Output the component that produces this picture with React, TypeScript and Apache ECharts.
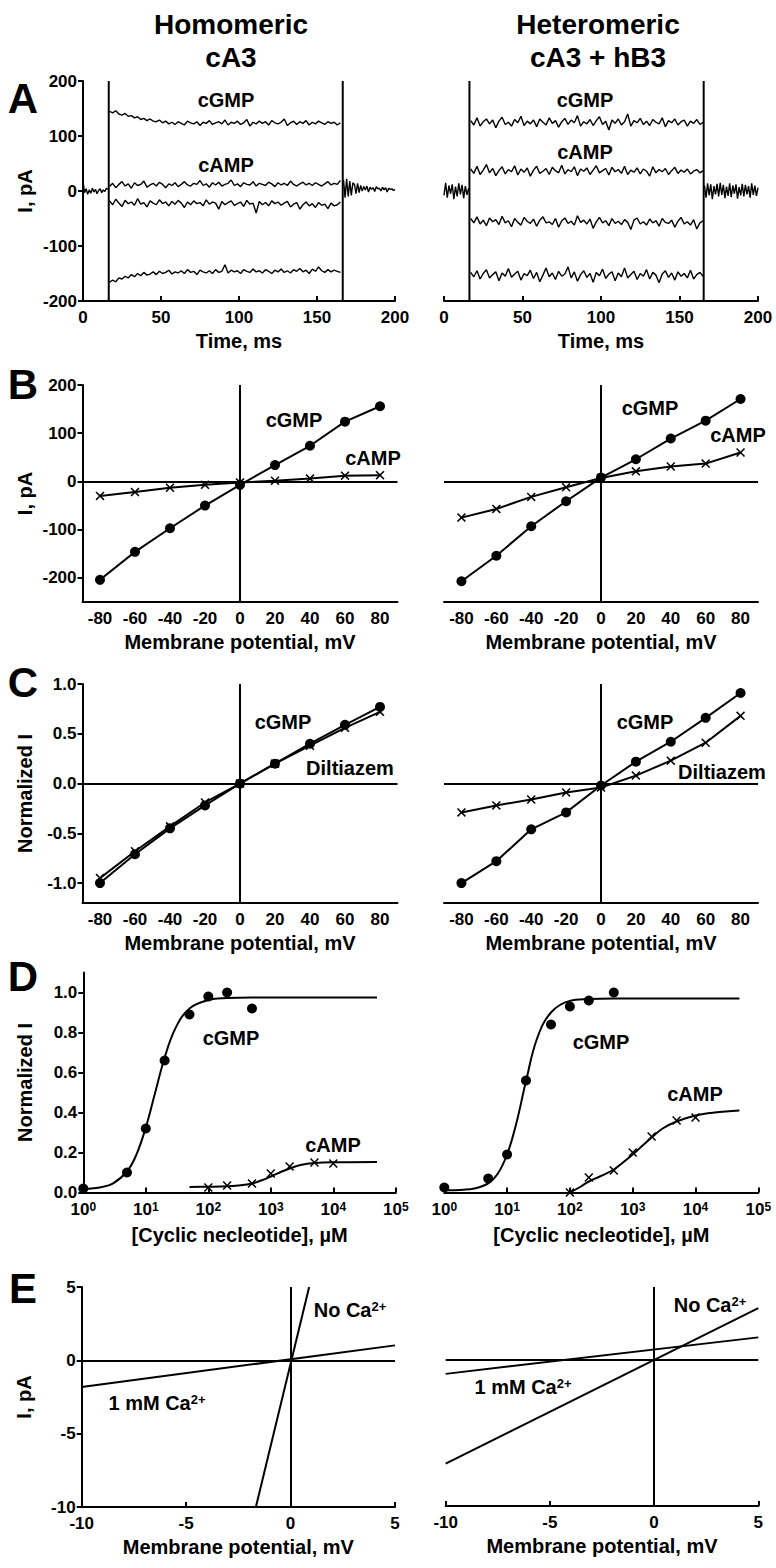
import React, { useEffect, useRef } from "react";
import * as echarts from "echarts";

const FONT = '"Liberation Sans", Arial, Helvetica, sans-serif';

// ---------- Panel A : current traces (pA) ----------
const A_L_STEP = [16.5, 166.5];
const A_R_STEP = [16.2, 165.4];
const A_PULSE = [17, 165];
const A_L_PRE = [18, -3, 4, -6, 2, -4, 5, -2, 3, -5, 1, 4, -3, 2, -1, 5, 3];
const A_L_POST = [20, -12, 22, -10, 18, -8, 15, 12, -5, 14, -3, 10, 0, 8, 2, 9, -2, 7, 3, 6, -1, 8, 4, 5, 0, 7, 2, 6, -2, 5, 3, 4, 1, 3];
const A_L_CGMP_POS = [145, 142, 146, 140, 138, 141, 136, 137, 133, 135, 130, 132, 128, 131, 127, 126, 129, 124, 127, 122, 125, 121, 126, 123, 120, 127, 124, 122, 126, 119, 125, 123, 128, 121, 124, 126, 122, 129, 120, 125, 123, 127, 121, 124, 130, 118, 125, 122, 127, 123, 126, 120, 128, 124, 122, 125, 131, 119, 124, 127, 121, 126, 123, 128, 120, 125, 122, 127, 124, 121, 126, 123, 125, 120, 124];
const A_L_CAMP_POS = [8, 14, 6, 12, 17, 9, 13, 5, 15, 10, 12, 18, 7, 11, 14, 9, 16, 12, 6, 13, 10, 15, 8, 12, 17, 11, 9, 14, 12, 19, 10, 13, 7, 15, 11, 16, 9, 12, 14, 20, 10, 13, 8, 15, 12, 11, 17, 9, 14, 12, 10, 16, 13, 8, 15, 11, 14, 10, 18, 12, 9, 13, 16, 11, 14, 10, 15, 12, 9, 13, 17, 11, 14, 12, 19];
const A_L_CAMP_NEG = [-18, -25, -15, -22, -28, -17, -23, -20, -26, -14, -24, -21, -29, -18, -22, -25, -16, -23, -20, -27, -19, -24, -17, -22, -30, -20, -25, -18, -23, -21, -27, -16, -24, -20, -22, -33, -19, -25, -21, -18, -26, -23, -20, -28, -17, -24, -22, -40, -19, -25, -21, -27, -18, -23, -20, -26, -22, -19, -29, -24, -21, -33, -25, -20, -27, -23, -30, -21, -26, -24, -32, -22, -27, -25, -20];
const A_L_CGMP_NEG = [-166, -162, -165, -158, -160, -155, -158, -152, -156, -150, -154, -148, -153, -151, -147, -152, -146, -150, -148, -144, -151, -147, -149, -145, -150, -143, -148, -146, -152, -144, -147, -149, -145, -150, -143, -148, -146, -134, -149, -144, -147, -145, -150, -143, -146, -148, -142, -147, -145, -149, -143, -146, -150, -144, -147, -142, -148, -145, -149, -143, -146, -141, -147, -144, -150, -142, -146, -138, -145, -148, -143, -147, -144, -146, -148];
const A_R_PRE = [-8, 15, -12, 10, -5, 12, -15, 8, -10, 14, -6, 11, -13, 9, -7, 5];
const A_R_POST = [10, -12, 14, -8, 12, -15, 9, -6, 13, -10, 15, -7, 11, -13, 8, -9, 14, -11, 10, -5, 12, -14, 7, -8, 13, -10, 11, -6, 9, -12, 14, -7, 10, -9, 6];
const A_R_CGMP_POS = [128, 120, 133, 118, 126, 131, 122, 129, 115, 127, 134, 121, 125, 118, 130, 124, 136, 119, 127, 122, 129, 117, 131, 125, 120, 133, 123, 128, 116, 126, 132, 121, 129, 124, 137, 118, 126, 122, 130, 119, 128, 135, 121, 127, 111, 129, 123, 131, 120, 126, 140, 118, 128, 124, 132, 121, 127, 119, 130, 125, 122, 133, 117, 128, 124, 131, 120, 126, 129, 118, 127, 123, 130, 121, 125];
const A_R_CAMP_POS = [40, 32, 45, 30, 38, 48, 33, 41, 28, 37, 44, 31, 39, 35, 46, 29, 40, 34, 42, 27, 38, 45, 32, 36, 41, 30, 43, 37, 33, 47, 31, 39, 35, 44, 28, 40, 36, 42, 30, 38, 46, 33, 37, 41, 29, 43, 35, 39, 32, 45, 30, 38, 34, 42, 31, 40, 36, 27, 44, 33, 39, 35, 41, 30, 37, 43, 32, 38, 34, 40, 31, 36, 39, 33, 37];
const A_R_CAMP_NEG = [-50, -58, -47, -60, -53, -63, -49, -56, -52, -61, -46, -58, -54, -65, -50, -57, -62, -48, -55, -59, -51, -64, -53, -47, -58, -56, -61, -50, -66, -54, -49, -59, -55, -62, -45, -57, -53, -60, -51, -68, -56, -48, -58, -54, -63, -50, -59, -55, -61, -52, -57, -70, -53, -49, -60, -56, -62, -51, -58, -54, -64, -50, -57, -59, -53, -66, -55, -48, -60, -56, -62, -52, -69, -58, -54];
const A_R_CGMP_NEG = [-148, -156, -145, -160, -150, -143, -158, -152, -147, -163, -149, -155, -141, -157, -151, -146, -162, -150, -154, -144, -159, -148, -165, -153, -140, -156, -149, -161, -146, -155, -151, -138, -158, -147, -164, -152, -145, -157, -150, -166, -148, -154, -142, -159, -151, -147, -163, -149, -156, -140, -158, -152, -146, -161, -150, -155, -143, -160, -148, -153, -167, -151, -145, -157, -149, -162, -147, -155, -150, -158, -144, -160, -152, -148, -155];

// ---------- Panels B, C : I-V relations ----------
const VOLTAGES = [-80, -60, -40, -20, 0, 20, 40, 60, 80];
const V_TICKS = [-80, -60, -40, -20, 0, 20, 40, 60, 80];
const B_TICKS = [-200, -100, 0, 100, 200];
const B_L_CGMP = [-204, -146, -97, -50, -7, 34, 74, 124, 156];
const B_L_CAMP = [-30, -22, -13, -7, -2, 1.5, 6, 12, 13];
const B_R_CGMP = [-207, -154, -93, -41, 8, 46, 89, 126, 171];
const B_R_CAMP = [-75, -57, -32, -12, 7, 21, 31, 37, 60];
const C_TICKS = [-1, -0.5, 0, 0.5, 1];
const C_L_CGMP = [-1.0, -0.71, -0.45, -0.22, 0, 0.2, 0.4, 0.59, 0.77];
const C_L_DILT = [-0.95, -0.68, -0.43, -0.19, 0, 0.2, 0.38, 0.56, 0.72];
const C_R_CGMP = [-1.0, -0.78, -0.46, -0.29, -0.02, 0.22, 0.42, 0.66, 0.91];
const C_R_DILT = [-0.29, -0.22, -0.16, -0.09, -0.04, 0.08, 0.23, 0.41, 0.68];

// ---------- Panel D : dose-response ----------
const D_TICKS = [0, 0.2, 0.4, 0.6, 0.8, 1.0];
const D_L_CGMP_C = [1, 5, 10, 20, 50, 100, 200, 500];
const D_L_CGMP_I = [0.02, 0.1, 0.32, 0.66, 0.89, 0.98, 1.0, 0.92];
const D_L_CAMP_C = [100, 200, 500, 1000, 2000, 5000, 10000];
const D_L_CAMP_I = [0.025, 0.035, 0.045, 0.095, 0.13, 0.15, 0.145];
const D_L_CGMP_FIT_C = [1, 2, 3, 5, 7, 10, 14, 20, 30, 50, 100, 200, 500, 1000, 50000];
const D_L_CGMP_FIT_I = [0.018, 0.028, 0.046, 0.105, 0.186, 0.325, 0.495, 0.674, 0.823, 0.92, 0.962, 0.972, 0.975, 0.975, 0.975];
const D_L_CAMP_FIT_C = [50, 100, 200, 300, 500, 700, 1000, 1500, 2000, 3000, 5000, 10000, 50000];
const D_L_CAMP_FIT_I = [0.028, 0.029, 0.031, 0.035, 0.045, 0.06, 0.08, 0.105, 0.12, 0.137, 0.147, 0.151, 0.152];
const D_R_CGMP_C = [1, 5, 10, 20, 50, 100, 200, 500];
const D_R_CGMP_I = [0.025, 0.07, 0.19, 0.56, 0.84, 0.93, 0.96, 1.0];
const D_R_CAMP_C = [100, 200, 500, 1000, 2000, 5000, 10000];
const D_R_CAMP_I = [0.0, 0.075, 0.11, 0.2, 0.28, 0.36, 0.375];
const D_R_CGMP_FIT_C = [1, 2, 3, 5, 7, 10, 14, 20, 30, 50, 100, 200, 500, 1000, 50000];
const D_R_CGMP_FIT_I = [0.011, 0.014, 0.02, 0.046, 0.091, 0.19, 0.345, 0.557, 0.77, 0.9, 0.958, 0.967, 0.97, 0.97, 0.97];
const D_R_CAMP_FIT_C = [100, 150, 200, 300, 500, 700, 1000, 1500, 2000, 3000, 5000, 10000, 20000, 50000];
const D_R_CAMP_FIT_I = [0.0, 0.03, 0.055, 0.08, 0.115, 0.15, 0.19, 0.24, 0.275, 0.32, 0.355, 0.385, 0.4, 0.41];

// ---------- Panel E : single-channel I-V lines ----------
const E_L_NOCA = [[-1.66, -10], [0.89, 5]];
const E_L_CA = [[-10, -1.82], [5, 1.02]];
const E_R_NOCA = [[-10, -7.1], [5, 3.55]];
const E_R_CA = [[-10, -0.95], [5, 1.55]];

// ---------- layout ----------
const GRIDS = [
  [83, 81, 312, 220], [444, 81, 314, 220],
  [82.5, 385, 315, 217], [444, 385, 314, 217],
  [82.5, 684, 315, 219], [444, 684, 314, 219],
  [83.3, 972.5, 312.5, 220], [444.3, 972.5, 314, 220],
  [81.7, 1287, 313.3, 220], [445.7, 1287, 312.6, 219],
];

const BLACK = "#000";

function spread(vals: number[], t0: number, t1: number) {
  const n = vals.length;
  return vals.map((v, i) => [t0 + ((t1 - t0) * i) / (n - 1), v]);
}
const pair = (xs: number[], ys: number[]) => xs.map((x, i) => [x, ys[i]]);

const CROSS = "path://M0,1.2L1.2,0L5,3.8L8.8,0L10,1.2L6.2,5L10,8.8L8.8,10L5,6.2L1.2,10L0,8.8L3.8,5Z";

export default function App() {
  const ref = useRef<HTMLDivElement>(null);
  useEffect(() => {
    if (!ref.current) return;
    const chart = echarts.init(ref.current, undefined, { renderer: "svg" });

    const tickLabel = {
      color: BLACK,
      fontWeight: "bold" as const,
      fontSize: 17,
      fontFamily: FONT,
    };
    const nameStyle = { color: BLACK, fontWeight: "bold" as const, fontSize: 20, fontFamily: FONT };
    const axLine = { show: true, onZero: false, lineStyle: { color: BLACK, width: 2 } };
    const tickStyle = { color: BLACK, width: 2 };

    const xAxes: any[] = [];
    const yAxes: any[] = [];
    const mkX = (grid: number, o: any) =>
      xAxes.push({
        gridIndex: grid,
        type: "value",
        axisLine: axLine,
        axisTick: { show: true, inside: true, length: 5, lineStyle: tickStyle },
        axisLabel: { ...tickLabel, margin: 8 },
        splitLine: { show: false },
        nameLocation: "middle",
        nameTextStyle: nameStyle,
        ...o,
      });
    const mkY = (grid: number, show: boolean, o: any) =>
      yAxes.push({
        gridIndex: grid,
        type: "value",
        show,
        axisLine: axLine,
        axisTick: { show: true, inside: false, length: 5, lineStyle: tickStyle },
        axisLabel: { ...tickLabel, margin: 6 },
        splitLine: { show: false },
        nameLocation: "middle",
        nameTextStyle: nameStyle,
        ...o,
      });

    for (let side = 0; side < 2; side++) {
      const left = side === 0;
      mkX(0 + side, { min: 0, max: 200, interval: 50, name: "Time, ms", nameGap: 30 });
      mkY(0 + side, left, { min: -200, max: 200, interval: 100, name: "I, pA", nameGap: 48 });
    }
    for (let side = 0; side < 2; side++) {
      const left = side === 0;
      mkX(2 + side, {
        min: -90, max: 90, name: "Membrane potential, mV", nameGap: 30,
        axisTick: { show: false },
        axisLabel: { ...tickLabel, margin: 8, customValues: V_TICKS },
      });
      mkY(2 + side, left, {
        min: -250, max: 200, name: "I, pA", nameGap: 48,
        axisTick: { show: true, length: 5, lineStyle: tickStyle, customValues: B_TICKS },
        axisLabel: { ...tickLabel, margin: 6, customValues: B_TICKS },
      });
    }
    for (let side = 0; side < 2; side++) {
      const left = side === 0;
      mkX(4 + side, {
        min: -90, max: 90, name: "Membrane potential, mV", nameGap: 30,
        axisTick: { show: false },
        axisLabel: { ...tickLabel, margin: 8, customValues: V_TICKS },
      });
      mkY(4 + side, left, {
        min: -1.2, max: 1.0, name: "Normalized I", nameGap: 48,
        axisTick: { show: true, length: 5, lineStyle: tickStyle, customValues: C_TICKS },
        axisLabel: { ...tickLabel, margin: 6, customValues: C_TICKS, formatter: (v: number) => v.toFixed(1) },
      });
    }
    for (let side = 0; side < 2; side++) {
      const left = side === 0;
      mkX(6 + side, {
        type: "log", logBase: 10, min: 1, max: 100000, name: "[Cyclic necleotide], \u00b5M", nameGap: 32,
        axisLabel: {
          ...tickLabel,
          margin: 8,
          formatter: (v: number) => "10{s|" + Math.round(Math.log10(v)) + "}",
          rich: { s: { fontSize: 12, fontWeight: "bold", fontFamily: FONT, color: BLACK, verticalAlign: "top", padding: [0, 0, 6, 0] } },
        },
      });
      mkY(6 + side, left, {
        min: 0, max: 1.1, name: "Normalized I", nameGap: 48,
        axisTick: { show: true, length: 5, lineStyle: tickStyle, customValues: D_TICKS },
        axisLabel: { ...tickLabel, margin: 6, customValues: D_TICKS, formatter: (v: number) => v.toFixed(1) },
      });
    }
    for (let side = 0; side < 2; side++) {
      const left = side === 0;
      mkX(8 + side, { min: -10, max: 5, interval: 5, name: "Membrane potential, mV", nameGap: 30 });
      mkY(8 + side, left, { min: -10, max: 5, interval: 5, name: "I, pA", nameGap: 48 });
    }

    const series: any[] = [];
    const line = (idx: number, data: any[], o: any = {}) =>
      series.push({
        type: "line",
        xAxisIndex: idx,
        yAxisIndex: idx,
        data,
        showSymbol: false,
        symbol: "none",
        lineStyle: { color: BLACK, width: 1.4 },
        itemStyle: { color: BLACK, opacity: 1 },
        silent: true,
        ...o,
      });
    const zeroLines = {
      symbol: ["none", "none"],
      silent: true,
      label: { show: false },
      lineStyle: { color: BLACK, width: 2, type: "solid" },
      data: [{ yAxis: 0 }, { xAxis: 0 }],
    };

    // A traces
    const aTrace = (idx: number, pre: number[], post: number[], step: number[], traces: number[][]) => {
      line(idx, spread(pre, 0, step[0] - 0.5));
      line(idx, spread(post, step[1] + 0.5, 200));
      traces.forEach((tr) => line(idx, spread(tr, A_PULSE[0], A_PULSE[1])));
      step.forEach((t) => line(idx, [[t, -200], [t, 200]], { lineStyle: { color: BLACK, width: 2 } }));
    };
    aTrace(0, A_L_PRE, A_L_POST, A_L_STEP, [A_L_CGMP_POS, A_L_CAMP_POS, A_L_CAMP_NEG, A_L_CGMP_NEG]);
    aTrace(1, A_R_PRE, A_R_POST, A_R_STEP, [A_R_CGMP_POS, A_R_CAMP_POS, A_R_CAMP_NEG, A_R_CGMP_NEG]);

    // B, C
    const ivPanel = (idx: number, dots: number[], crosses: number[]) => {
      line(idx, pair(VOLTAGES, dots), {
        showSymbol: true, symbol: "circle", symbolSize: 10, lineStyle: { color: BLACK, width: 2 },
        markLine: zeroLines, z: 3,
      });
      line(idx, pair(VOLTAGES, crosses), {
        showSymbol: true, symbol: CROSS, symbolSize: 9, lineStyle: { color: BLACK, width: 2 }, z: 2,
      });
    };
    ivPanel(2, B_L_CGMP, B_L_CAMP);
    ivPanel(3, B_R_CGMP, B_R_CAMP);
    ivPanel(4, C_L_CGMP, C_L_DILT);
    ivPanel(5, C_R_CGMP, C_R_DILT);

    // D
    const drPanel = (idx: number, fitG: number[][], fitA: number[][], ptsG: number[][], ptsA: number[][]) => {
      line(idx, fitG, { smooth: 0.4, lineStyle: { color: BLACK, width: 2 } });
      line(idx, fitA, { smooth: 0.4, lineStyle: { color: BLACK, width: 2 } });
      series.push({ type: "scatter", xAxisIndex: idx, yAxisIndex: idx, data: ptsG, symbol: "circle", symbolSize: 10, itemStyle: { color: BLACK, opacity: 1 }, silent: true, z: 4 });
      series.push({ type: "scatter", xAxisIndex: idx, yAxisIndex: idx, data: ptsA, symbol: CROSS, symbolSize: 9, itemStyle: { color: BLACK, opacity: 1 }, silent: true, z: 4 });
    };
    drPanel(6, pair(D_L_CGMP_FIT_C, D_L_CGMP_FIT_I), pair(D_L_CAMP_FIT_C, D_L_CAMP_FIT_I), pair(D_L_CGMP_C, D_L_CGMP_I), pair(D_L_CAMP_C, D_L_CAMP_I));
    drPanel(7, pair(D_R_CGMP_FIT_C, D_R_CGMP_FIT_I), pair(D_R_CAMP_FIT_C, D_R_CAMP_FIT_I), pair(D_R_CGMP_C, D_R_CGMP_I), pair(D_R_CAMP_C, D_R_CAMP_I));

    // E
    line(8, E_L_NOCA, { lineStyle: { color: BLACK, width: 2 }, markLine: zeroLines });
    line(8, E_L_CA, { lineStyle: { color: BLACK, width: 2 } });
    line(9, E_R_NOCA, { lineStyle: { color: BLACK, width: 2 }, markLine: zeroLines });
    line(9, E_R_CA, { lineStyle: { color: BLACK, width: 2 } });

    const txt = (text: string, x: number, y: number, size: number, extra: any = {}) => ({
      type: "text",
      x,
      y,
      silent: true,
      style: {
        text,
        fill: BLACK,
        fontSize: size,
        fontWeight: "bold",
        fontFamily: FONT,
        align: "center",
        verticalAlign: "middle",
        ...extra,
      },
    });
    const supRich = { s: { fontSize: 13, fontWeight: "bold", fontFamily: FONT, fill: BLACK, verticalAlign: "top" } };

    const graphic = [
      txt("Homomeric", 231, 24, 28),
      txt("cA3", 231, 57, 28),
      txt("Heteromeric", 598, 24, 28),
      txt("cA3 + hB3", 598, 57, 28),
      txt("A", 23, 98, 42),
      txt("B", 23, 384, 42),
      txt("C", 23, 682, 42),
      txt("D", 23, 976, 42),
      txt("E", 23, 1288, 42),
      // A
      txt("cGMP", 226, 100, 20),
      txt("cAMP", 226, 165, 20),
      txt("cGMP", 585, 100, 20),
      txt("cAMP", 585, 152, 20),
      // B
      txt("cGMP", 294, 420, 20),
      txt("cAMP", 373, 458, 20),
      txt("cGMP", 650, 408, 20),
      txt("cAMP", 738, 435, 20),
      // C
      txt("cGMP", 283, 722, 20),
      txt("Diltiazem", 350, 768, 20),
      txt("cGMP", 645, 722, 20),
      txt("Diltiazem", 722, 772, 20),
      // D
      txt("cGMP", 231, 1038, 20),
      txt("cAMP", 333, 1145, 20),
      txt("cGMP", 601, 1042, 20),
      txt("cAMP", 695, 1094, 20),
      // E
      txt("No Ca{s|2+}", 350, 1310, 20, { rich: supRich }),
      txt("1 mM Ca{s|2+}", 157, 1403, 20, { rich: supRich }),
      txt("No Ca{s|2+}", 710, 1305, 20, { rich: supRich }),
      txt("1 mM Ca{s|2+}", 523, 1387, 20, { rich: supRich }),
    ];

    chart.setOption({
      animation: false,
      backgroundColor: "#fff",
      grid: GRIDS.map((g) => ({ left: g[0], top: g[1], width: g[2], height: g[3] })),
      xAxis: xAxes,
      yAxis: yAxes,
      series,
      graphic,
    });
    return () => chart.dispose();
  }, []);

  return (
    <div
      ref={ref}
      style={{ position: "absolute", left: 0, top: 0, width: 776, height: 1568, background: "#fff" }}
    />
  );
}
